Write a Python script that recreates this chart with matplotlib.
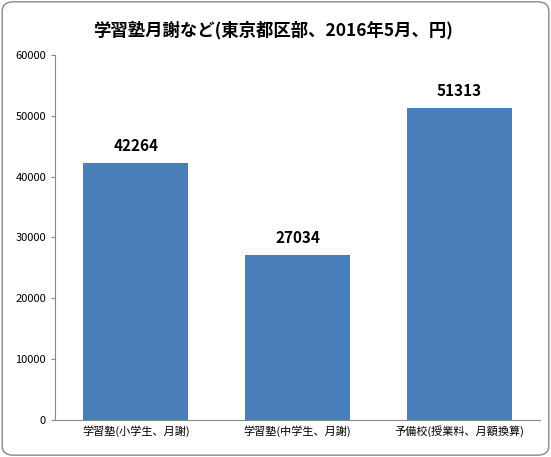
import matplotlib.pyplot as plt
from matplotlib.patches import FancyBboxPatch

plt.rcParams['font.family'] = ['Noto Sans CJK JP', 'DejaVu Sans']

categories = ["学習塾(小学生、月謝)", "学習塾(中学生、月謝)", "予備校(授業料、月額換算)"]
values = [42264, 27034, 51313]

fig = plt.figure(figsize=(5.51, 4.57), dpi=100)
fig.patches.append(FancyBboxPatch((0.004, 0.004), 0.992, 0.992, boxstyle="round,pad=0,rounding_size=0.02",
                                  transform=fig.transFigure, fill=False, edgecolor="#888888", linewidth=1))
ax = fig.add_axes([0.1, 0.081, 0.88, 0.799])

x = range(len(categories))
ax.bar(x, values, width=0.65, color="#4a7ebb")
for i, v in zip(x, values):
    ax.text(i, v + 1500, str(v), ha="center", va="bottom", fontsize=11, fontweight="bold")

ax.set_ylim(0, 60000)
ax.set_xlim(-0.5, 2.5)
ax.set_yticks(range(0, 60001, 10000))
ax.set_xticks(list(x))
ax.set_xticklabels(categories, fontsize=8)
ax.tick_params(axis="y", labelsize=8, length=3, color="#888888")
ax.tick_params(axis="x", length=0)
for s in ["top", "right"]:
    ax.spines[s].set_visible(False)
for s in ["left", "bottom"]:
    ax.spines[s].set_color("#888888")

fig.text(0.495, 0.935, "学習塾月謝など(東京都区部、2016年5月、円)", ha="center", va="center",
         fontsize=12.5, fontweight="bold")

fig.savefig("out.png", dpi=100)
